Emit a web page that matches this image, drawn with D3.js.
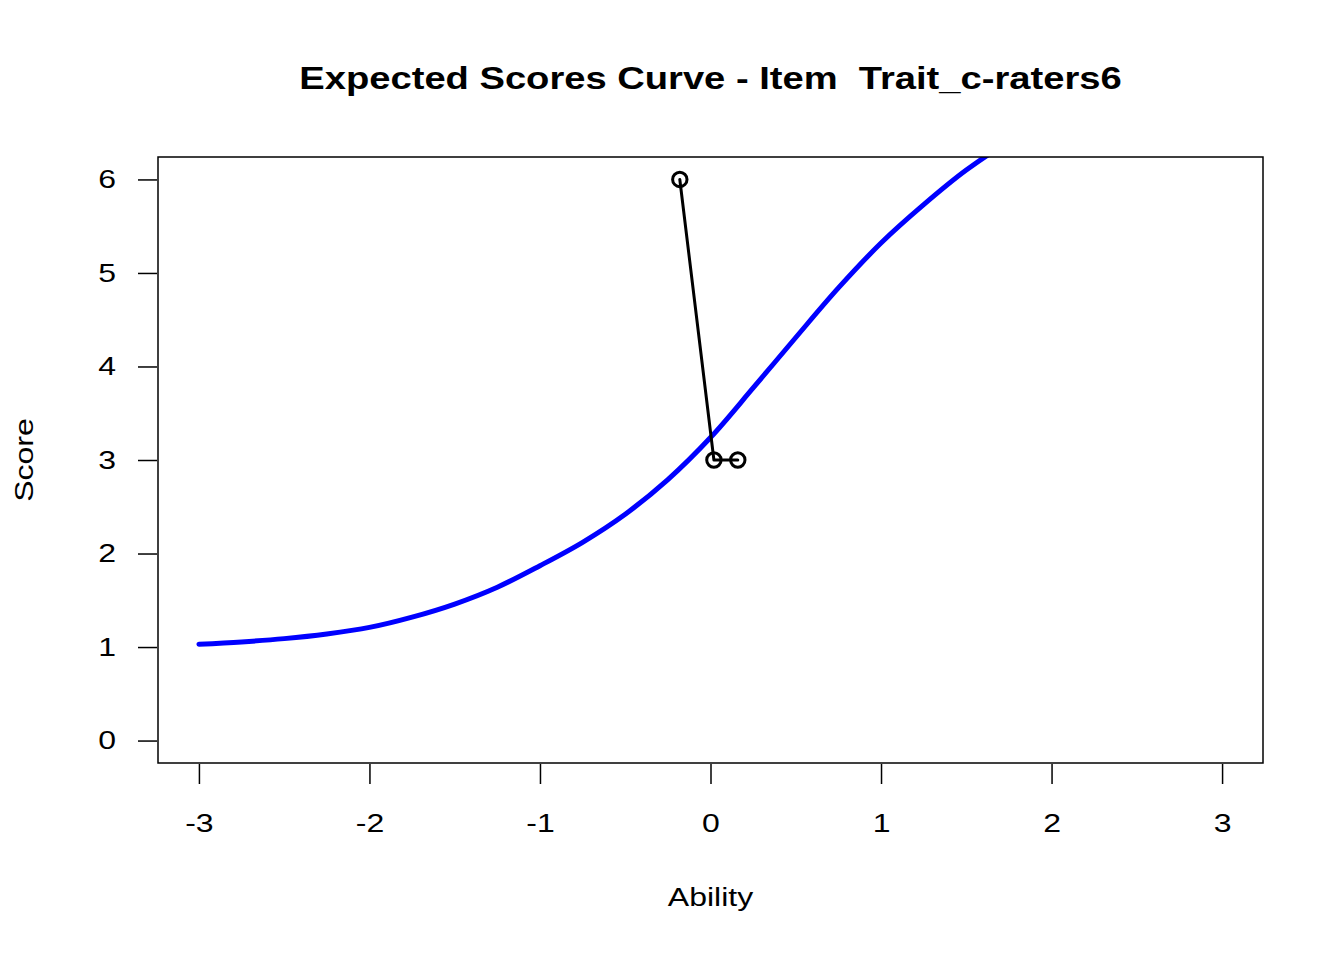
<!DOCTYPE html>
<html>
<head>
<meta charset="utf-8">
<script src="https://cdn.jsdelivr.net/npm/d3@7"></script>
<style>
  html, body { margin: 0; padding: 0; background: #fff; }
  svg { display: block; }
  text { font-family: "Liberation Sans", Arial, Helvetica, sans-serif; fill: #000; }
</style>
</head>
<body>
<svg id="chart" width="1344" height="960"></svg>
<script>
// ---- data ----
const title = "Expected Scores Curve - Item  Trait_c-raters6";
const xLabel = "Ability";
const yLabel = "Score";
const xTicks = [-3, -2, -1, 0, 1, 2, 3];
const yTicks = [0, 1, 2, 3, 4, 5, 6];
// expected score curve (blue)
const curveAbility = [-3, -2.75, -2.5, -2.25, -2, -1.75, -1.5, -1.25, -1, -0.75, -0.5, -0.25, 0,
                      0.25, 0.5, 0.75, 1, 1.25, 1.5, 1.75, 2, 2.25, 2.5, 2.75, 3];
const curveScore   = [1.03, 1.055, 1.09, 1.14, 1.21, 1.32, 1.46, 1.64, 1.87, 2.12, 2.42, 2.79, 3.24,
                      3.77, 4.31, 4.84, 5.32, 5.73, 6.10, 6.40, 6.61, 6.75, 6.84, 6.90, 6.94];
// observed points (black)
const obsAbility = [-0.18, 0.02, 0.16];
const obsScore   = [6, 3, 3];

// ---- layout ----
const svg = d3.select("#chart");
const L = 158, R = 1263, T = 157, B = 763;
const WIDEN = 1.23;
const x = d3.scaleLinear().domain([-3.24, 3.24]).range([L, R]);
const y = d3.scaleLinear().domain([-0.24, 6.24]).range([B, T]);

svg.append("defs").append("clipPath").attr("id", "plotclip")
  .append("rect").attr("x", L).attr("y", T).attr("width", R - L).attr("height", B - T);

// title
svg.append("text").attr("x", (L + R) / 2).attr("y", 89)
  .attr("text-anchor", "middle").attr("font-size", 31).attr("font-weight", "bold")
  .attr("xml:space", "preserve").style("white-space", "pre")
  .text(title);

// axes
const xAxis = d3.axisBottom(x).tickValues(xTicks).tickSize(20).tickPadding(30)
  .tickFormat(d3.format("d"));
const gx = svg.append("g").attr("transform", `translate(0,${B + 1})`).call(xAxis);
gx.select(".domain").remove();
gx.selectAll(".tick line").attr("stroke", "#000").attr("stroke-width", 1.5);
gx.selectAll(".tick text").attr("font-size", 26).attr("font-family", "Liberation Sans, Arial, sans-serif")
  .attr("fill", "#000").text(d => d < 0 ? "-" + Math.abs(d) : d);

const yAxis = d3.axisLeft(y).tickValues(yTicks).tickSize(19).tickPadding(22)
  .tickFormat(d3.format("d"));
const gy = svg.append("g").attr("transform", `translate(${L - 1},0)`).call(yAxis);
gy.select(".domain").remove();
gy.selectAll(".tick line").attr("stroke", "#000").attr("stroke-width", 1.5);
gy.selectAll(".tick text").attr("font-size", 26).attr("font-family", "Liberation Sans, Arial, sans-serif")
  .attr("fill", "#000");

// axis labels
svg.append("text").attr("x", (L + R) / 2).attr("y", 906)
  .attr("text-anchor", "middle").attr("font-size", 26).text(xLabel);
svg.append("text").attr("transform", `translate(33,${(T + B) / 2}) rotate(-90)`)
  .attr("text-anchor", "middle").attr("font-size", 26).text(yLabel);

// widen glyphs to match the reference's wider sans face
svg.selectAll("text").each(function () {
  const w = this.getComputedTextLength();
  d3.select(this).attr("textLength", w * WIDEN).attr("lengthAdjust", "spacingAndGlyphs");
});

// blue curve
const curveData = curveAbility.map((a, i) => [a, curveScore[i]]);
svg.append("path").datum(curveData)
  .attr("clip-path", "url(#plotclip)")
  .attr("fill", "none").attr("stroke", "#0000ff").attr("stroke-width", 5)
  .attr("stroke-linecap", "round").attr("stroke-linejoin", "round")
  .attr("d", d3.line().x(d => x(d[0])).y(d => y(d[1])).curve(d3.curveCatmullRom.alpha(0.5)));

// observed line + points
const obsData = obsAbility.map((a, i) => [a, obsScore[i]]);
svg.append("path").datum(obsData)
  .attr("fill", "none").attr("stroke", "#000").attr("stroke-width", 3)
  .attr("stroke-linecap", "round").attr("stroke-linejoin", "round")
  .attr("d", d3.line().x(d => x(d[0])).y(d => y(d[1])));
svg.append("g").selectAll("circle").data(obsData).join("circle")
  .attr("cx", d => x(d[0])).attr("cy", d => y(d[1])).attr("r", 7.2)
  .attr("fill", "none").attr("stroke", "#000").attr("stroke-width", 3);

// box
svg.append("rect").attr("x", L).attr("y", T).attr("width", R - L).attr("height", B - T)
  .attr("fill", "none").attr("stroke", "#000").attr("stroke-width", 1.5);
</script>
</body>
</html>
